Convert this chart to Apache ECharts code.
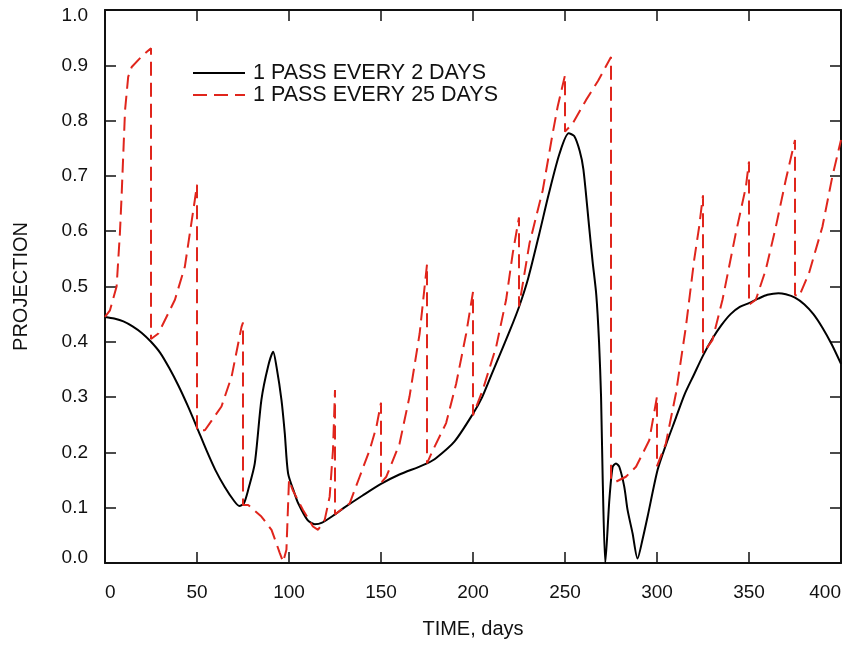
<!DOCTYPE html>
<html>
<head>
<meta charset="utf-8">
<script src="https://cdn.jsdelivr.net/npm/echarts@6/dist/echarts.min.js"></script>
<style>
  html, body { margin: 0; padding: 0; background: #fff; }
  #chart { width: 847px; height: 647px; }
</style>
</head>
<body>
<div id="chart"></div>
<script>
// 1 pass every 2 days
var dailyDays = [0, 5, 10, 15, 20, 25, 30, 35, 40, 45, 50, 55, 60, 65, 70, 73, 75.5, 77.8, 81.4, 85, 88.6, 91.4, 93.2,
    95.9, 97.7, 99.5, 103, 105, 110, 114, 118, 125, 130, 140, 150, 160, 170, 175, 180, 190, 200, 205, 210, 215, 220,
    225, 230, 236, 241, 247, 252, 255, 258, 260, 263, 265, 267, 268.5, 269.6, 270.5, 271.9, 274.1, 275.9, 277.7, 279.5,
    282.2, 284, 286.7, 289.4, 292.1, 294.9, 300.3, 305, 310, 315, 320, 325, 330, 335, 340, 345, 350, 355, 360, 366, 370,
    375, 380, 385, 390, 395, 400];
var dailyProj = [0.445, 0.442, 0.437, 0.428, 0.416, 0.400, 0.380, 0.352, 0.320, 0.284, 0.245, 0.205, 0.168, 0.138, 0.113,
    0.103, 0.108, 0.132, 0.180, 0.295, 0.355, 0.382, 0.355,
    0.295, 0.235, 0.162, 0.126, 0.108, 0.078, 0.070, 0.073, 0.088, 0.100, 0.122, 0.143, 0.160, 0.173, 0.180, 0.190,
    0.220, 0.270, 0.300, 0.340, 0.380, 0.420,
    0.463, 0.515, 0.595, 0.665, 0.740, 0.777, 0.772, 0.745, 0.712, 0.612, 0.545, 0.485, 0.400, 0.300, 0.150, 0.000,
    0.114, 0.174, 0.180, 0.174,
    0.138, 0.096, 0.054, 0.008, 0.042, 0.084, 0.168, 0.215, 0.260, 0.305, 0.340, 0.375, 0.405, 0.430, 0.450, 0.463,
    0.470, 0.478, 0.485, 0.488, 0.486,
    0.480, 0.468, 0.450, 0.425, 0.395, 0.360];

// 1 pass every 25 days (repeated day = vertical drop at a pass)
var passDays = [0, 2.7, 6.3, 8.1, 9, 10.9, 12.6, 14.5, 19.9, 25,
    25, 29, 38, 43.4, 48.8, 50,
    50, 54.3, 63.3, 68.8, 74.2, 75,
    75, 77.8, 85, 90.5, 95, 96.8, 98.6, 100,
    100, 102, 107.6, 113, 115.8, 119.4, 122.1, 123.9, 125,
    125, 133, 138.4, 143.8, 147.5, 150,
    150, 152.9, 160.1, 165.5, 171, 175,
    175, 178.2, 185.4, 190.9, 196.3, 200,
    200, 205.3, 212.6, 218, 221.6, 225,
    225, 230.7, 237.9, 243.3, 246, 250,
    250, 254.2, 261.4, 268, 275,
    275, 277.7, 283.1, 288.6, 295.8, 300,
    300, 304.8, 310.3, 315.7, 320.2, 322.9, 325,
    325, 330.1, 335.6, 342.8, 348.3, 350,
    350, 353.7, 359.1, 364.6, 370, 375,
    375, 377.2, 382.6, 389.9, 395.3, 400];
var passProj = [0.445, 0.457, 0.500, 0.596, 0.662, 0.819, 0.879, 0.897, 0.916, 0.931,
    0.405, 0.415, 0.476, 0.536, 0.656, 0.684,
    0.240, 0.240, 0.283, 0.337, 0.427, 0.435,
    0.105, 0.105, 0.084, 0.060, 0.018, 0.002, 0.024, 0.150,
    0.150, 0.132, 0.096, 0.066, 0.060, 0.078, 0.120, 0.204, 0.313,
    0.088, 0.108, 0.156, 0.204, 0.246, 0.290,
    0.145, 0.156, 0.216, 0.301, 0.415, 0.540,
    0.180, 0.204, 0.253, 0.325, 0.415, 0.490,
    0.267, 0.313, 0.391, 0.476, 0.560, 0.625,
    0.464, 0.578, 0.674, 0.777, 0.825, 0.882,
    0.780, 0.795, 0.837, 0.872, 0.915,
    0.150, 0.147, 0.156, 0.174, 0.222, 0.301,
    0.175, 0.216, 0.307, 0.427, 0.548, 0.608, 0.665,
    0.379, 0.403, 0.476, 0.596, 0.680, 0.726,
    0.467, 0.476, 0.530, 0.608, 0.693, 0.765,
    0.485, 0.482, 0.524, 0.608, 0.699, 0.765];

var seriesNames = ['1 PASS EVERY 2 DAYS', '1 PASS EVERY 25 DAYS'];
var xTicks = { min: 0, max: 400, step: 50 };
var yTicks = { min: 0, max: 1, step: 0.1 };

var dailyData = [];
for (var i = 0; i < dailyDays.length; i++) {
    dailyData.push([dailyDays[i], dailyProj[i]]);
}
var passData = [];
for (var j = 0; j < passDays.length; j++) {
    passData.push([passDays[j], passProj[j]]);
}

var chart = echarts.init(document.getElementById('chart'));
var font = 'Liberation Sans, Arial, sans-serif';

var frameLine = { show: true, onZero: false, lineStyle: { color: '#111', width: 2 } };
var inTicks = { show: true, inside: true, length: 11, lineStyle: { color: '#111', width: 1.5 } };

// legend swatches: a solid bar and a dashed bar
var solidIcon = 'path://M0,0H52V2H0Z';
var dashIcon = 'path://M0,0H14V2H0Z M21,0H35V2H21Z M42,0H52V2H42Z';

option = {
    animation: false,
    backgroundColor: '#fff',
    grid: { left: 105, right: 6, top: 10, bottom: 84, containLabel: false },
    legend: {
        orient: 'vertical',
        left: 188,
        top: 57,
        itemWidth: 52,
        itemHeight: 2,
        itemGap: 0,
        textStyle: { fontFamily: font, fontSize: 21.5, color: '#111', lineHeight: 21, padding: [0, 0, 0, 3] },
        data: [
            { name: seriesNames[0], icon: solidIcon },
            { name: seriesNames[1], icon: dashIcon }
        ]
    },
    xAxis: [
        {
            type: 'value',
            min: xTicks.min,
            max: xTicks.max,
            interval: xTicks.step,
            name: 'TIME, days',
            nameLocation: 'middle',
            nameGap: 56,
            nameTextStyle: { fontFamily: font, fontSize: 20, color: '#111' },
            axisLine: frameLine,
            axisTick: inTicks,
            splitLine: { show: false },
            axisLabel: {
                fontFamily: font, fontSize: 19, color: '#111', margin: 20,
                alignMinLabel: 'left', alignMaxLabel: 'right'
            }
        },
        {
            type: 'value',
            position: 'top',
            min: xTicks.min,
            max: xTicks.max,
            interval: xTicks.step,
            axisLine: frameLine,
            axisTick: inTicks,
            splitLine: { show: false },
            axisLabel: { show: false }
        }
    ],
    yAxis: [
        {
            type: 'value',
            min: yTicks.min,
            max: yTicks.max,
            interval: yTicks.step,
            name: 'PROJECTION',
            nameLocation: 'middle',
            nameGap: 74,
            nameTextStyle: { fontFamily: font, fontSize: 20, color: '#111' },
            axisLine: frameLine,
            axisTick: inTicks,
            splitLine: { show: false },
            axisLabel: {
                fontFamily: font, fontSize: 19, color: '#111', margin: 17,
                formatter: function (v) {
                    if (v >= yTicks.max) return '{top|' + v.toFixed(1) + '}';
                    if (v <= yTicks.min) return '{bot|' + v.toFixed(1) + '}';
                    return v.toFixed(1);
                },
                rich: {
                    top: { fontFamily: font, fontSize: 19, color: '#111', padding: [12, 0, 0, 0] },
                    bot: { fontFamily: font, fontSize: 19, color: '#111', padding: [0, 0, 10, 0] }
                }
            }
        },
        {
            type: 'value',
            position: 'right',
            min: yTicks.min,
            max: yTicks.max,
            interval: yTicks.step,
            axisLine: frameLine,
            axisTick: inTicks,
            splitLine: { show: false },
            axisLabel: { show: false }
        }
    ],
    series: [
        {
            name: seriesNames[0],
            type: 'line',
            symbol: 'none',
            smooth: 0.25,
            lineStyle: { color: '#000', width: 2 },
            itemStyle: { color: '#000' },
            data: dailyData
        },
        {
            name: seriesNames[1],
            type: 'line',
            symbol: 'none',
            smooth: false,
            lineStyle: { color: '#e0251c', width: 2, type: [14, 7] },
            itemStyle: { color: '#e0251c' },
            data: passData
        }
    ]
};

chart.setOption(option);
</script>
</body>
</html>
